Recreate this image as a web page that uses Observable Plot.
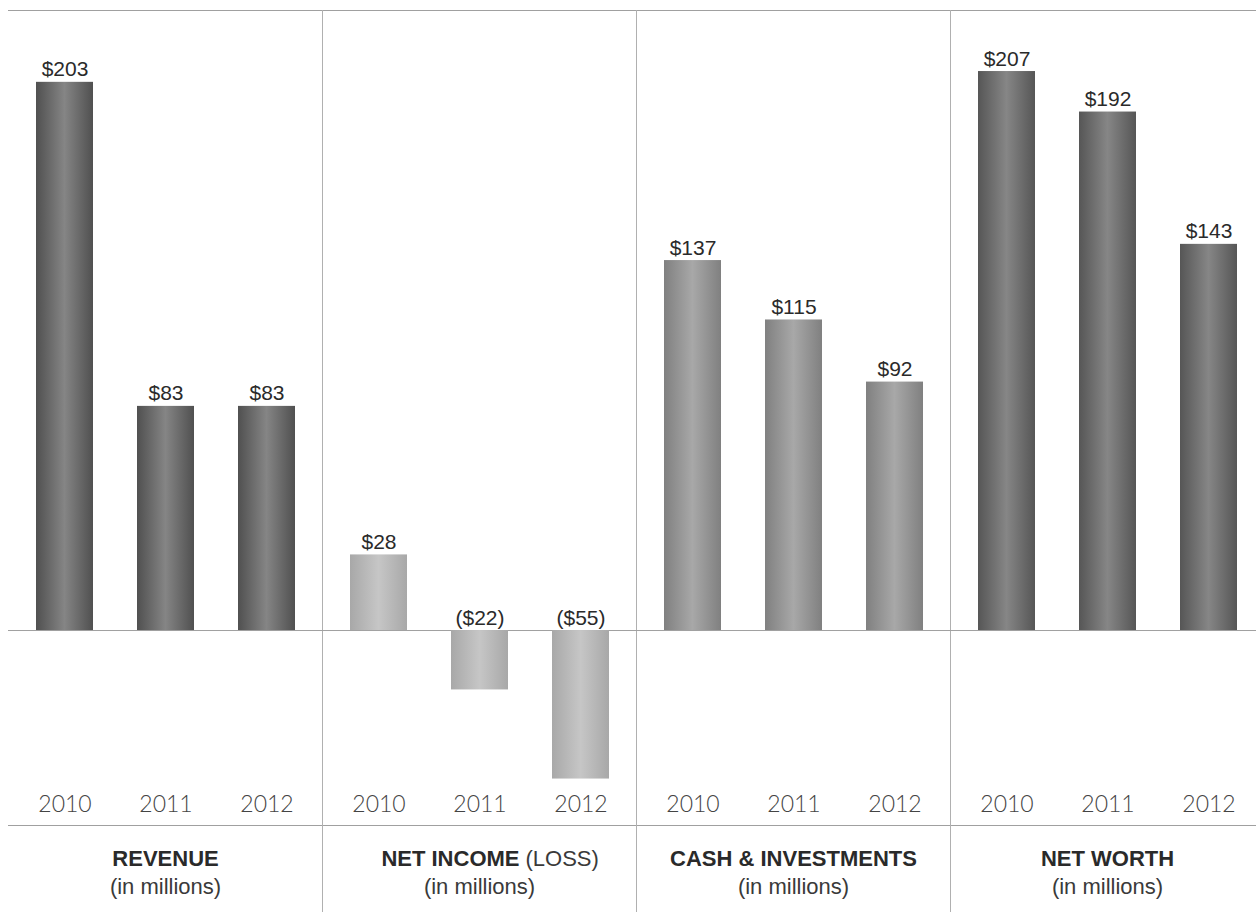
<!DOCTYPE html>
<html>
<head>
<meta charset="utf-8">
<script src="https://cdn.jsdelivr.net/npm/d3@7"></script>
<script src="https://cdn.jsdelivr.net/npm/@observablehq/plot@0.6"></script>
<style>
  html, body { margin: 0; padding: 0; background: #fff; overflow: hidden; }
</style>
</head>
<body>
<svg width="0" height="0" style="position:absolute">
  <defs>
    <linearGradient id="gRev" x1="0" x2="1" y1="0" y2="0">
      <stop offset="0" stop-color="#505050"/>
      <stop offset="0.5" stop-color="#858585"/>
      <stop offset="1" stop-color="#505050"/>
    </linearGradient>
    <linearGradient id="gNet" x1="0" x2="1" y1="0" y2="0">
      <stop offset="0" stop-color="#a8a8a8"/>
      <stop offset="0.5" stop-color="#c6c6c6"/>
      <stop offset="1" stop-color="#a8a8a8"/>
    </linearGradient>
    <linearGradient id="gCash" x1="0" x2="1" y1="0" y2="0">
      <stop offset="0" stop-color="#808080"/>
      <stop offset="0.5" stop-color="#a8a8a8"/>
      <stop offset="1" stop-color="#808080"/>
    </linearGradient>
    <linearGradient id="gWorth" x1="0" x2="1" y1="0" y2="0">
      <stop offset="0" stop-color="#565656"/>
      <stop offset="0.5" stop-color="#868686"/>
      <stop offset="1" stop-color="#565656"/>
    </linearGradient>
  </defs>
</svg>
<div id="chart"></div>
<script>
// ---- data ----
const metrics = ["REVENUE", "NET INCOME", "CASH & INVESTMENTS", "NET WORTH"];
const years = ["2010", "2011", "2012"];
const revenue = [203, 83, 83];
const netIncome = [28, -22, -55];
const cash = [137, 115, 92];
const netWorth = [207, 192, 143];
const subtitle = "(in millions)";
const lossSuffix = "(LOSS)";

const seriesByMetric = [revenue, netIncome, cash, netWorth];
const fills = ["url(#gRev)", "url(#gNet)", "url(#gCash)", "url(#gWorth)"];

const data = metrics.flatMap((m, i) =>
  years.map((y, j) => ({metric: m, year: y, value: seriesByMetric[i][j]}))
);
const fmt = v => v < 0 ? `($${-v})` : `$${v}`;
const facetRows = metrics.map(m => ({metric: m}));
const yearRows = metrics.flatMap(m => years.map(y => ({metric: m, year: y})));

const valueFont = "'Liberation Sans Narrow', 'Arial Narrow', 'Liberation Sans', sans-serif";
const titleFont = "'Liberation Sans', Arial, Helvetica, sans-serif";

const chart = Plot.plot({
  width: 1264,
  height: 912,
  marginLeft: 8,
  marginRight: 0,
  marginTop: 10,
  marginBottom: 87,
  style: {maxWidth: "none", background: "#fff", fontFamily: titleFont},
  fx: {domain: metrics, padding: 0, axis: null},
  x: {domain: years, paddingInner: 0.44, paddingOuter: 0.27, axis: null},
  y: {domain: [-72.2, 229.6], axis: null},
  marks: [
    Plot.frame({anchor: "top", stroke: "#a0a0a0", strokeWidth: 1}),
    Plot.frame({anchor: "bottom", stroke: "#a0a0a0", strokeWidth: 1}),
    Plot.frame({anchor: "right", stroke: "#b0b0b0", strokeWidth: 1, insetBottom: -87}),
    Plot.ruleY([0], {stroke: "#a0a0a0", strokeWidth: 1}),
    ...metrics.map((m, i) =>
      Plot.barY(data, {filter: d => d.metric === m, fx: "metric", x: "year", y: "value", fill: fills[i]})
    ),
    Plot.text(data, {
      fx: "metric", x: "year", y: d => Math.max(0, d.value), text: d => fmt(d.value),
      lineAnchor: "bottom", dy: -6, fontSize: 21, fontWeight: "normal", fill: "#2a2a2a", fontFamily: valueFont
    }),
    Plot.text(yearRows, {
      fx: "metric", x: "year", text: "year", frameAnchor: "bottom", lineAnchor: "middle", dy: -21,
      fontSize: 23, fill: "#444", fontWeight: 300, fontFamily: "Lato, 'Open Sans', sans-serif",
      letterSpacing: 2.5
    }),
    Plot.text(facetRows, {
      filter: d => d.metric !== "NET INCOME",
      fx: "metric", text: "metric", frameAnchor: "bottom", lineAnchor: "middle", dy: 33,
      fontSize: 22, fontWeight: "bold", fill: "#2a2a2a", letterSpacing: 2
    }),
    Plot.text(facetRows, {
      filter: d => d.metric === "NET INCOME",
      fx: "metric", text: "metric", frameAnchor: "bottom", lineAnchor: "middle", dy: 33, dx: 40,
      textAnchor: "end", fontSize: 22, fontWeight: "bold", fill: "#2a2a2a", letterSpacing: 2
    }),
    Plot.text(facetRows, {
      filter: d => d.metric === "NET INCOME",
      fx: "metric", text: () => lossSuffix, frameAnchor: "bottom", lineAnchor: "middle", dy: 33, dx: 46,
      textAnchor: "start", fontSize: 22, fill: "#3a3a3a", letterSpacing: 2
    }),
    Plot.text(facetRows, {
      fx: "metric", text: () => subtitle, frameAnchor: "bottom", lineAnchor: "middle", dy: 61,
      fontSize: 22, fill: "#3a3a3a", letterSpacing: 2
    })
  ]
});
document.getElementById("chart").appendChild(chart);
</script>
</body>
</html>
